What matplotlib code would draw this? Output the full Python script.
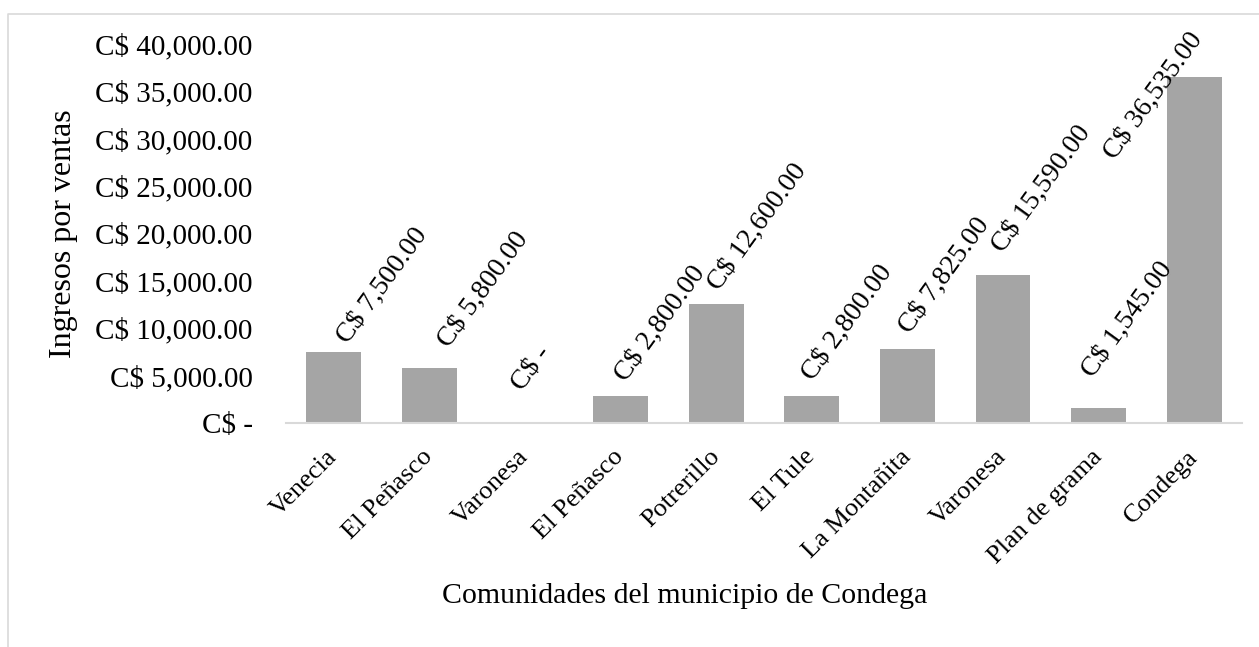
import matplotlib
matplotlib.use("Agg")
import matplotlib.pyplot as plt
from matplotlib.lines import Line2D

categories = ["Venecia", "El Peñasco", "Varonesa", "El Peñasco", "Potrerillo",
              "El Tule", "La Montañita", "Varonesa", "Plan de grama", "Condega"]
ingresos = [7500, 5800, 0, 2800, 12600, 2800, 7825, 15590, 1545, 36535]
y_ticks = [0, 5000, 10000, 15000, 20000, 25000, 30000, 35000, 40000]

def fmt(v):
    return "C$ -" if v == 0 else f"C$ {v:,.2f}"

plt.rcParams['font.family'] = ['Liberation Serif', 'DejaVu Serif']

W, H = 1259, 647
fig = plt.figure(figsize=(W / 100, H / 100), dpi=100)
ax = fig.add_axes([286 / W, 1 - 423 / H, (1242 - 286) / W, (423 - 44) / H])

x = list(range(len(categories)))
ax.bar(x, ingresos, width=0.575, color="#a5a5a5", zorder=2)
ax.set_xlim(-0.5, len(categories) - 0.5)
ax.set_ylim(0, 40000)

ax.set_yticks(y_ticks)
ax.set_yticklabels([fmt(v) for v in y_ticks], fontsize=21)
ax.tick_params(axis='y', length=0, pad=24)
ax.set_xticks(x)
ax.set_xticklabels(categories, fontsize=19, rotation=45, ha='right',
                   va='center', rotation_mode='anchor')
ax.tick_params(axis='x', length=0, pad=22)

for s in ['top', 'right', 'left']:
    ax.spines[s].set_visible(False)
ax.spines['bottom'].set_color('#d9d9d9')
ax.spines['bottom'].set_linewidth(1.5)

# data labels (offsets in pixels)
offsets = [(14, 7), (19, 19), (-3, 31), (5, 14), (2, 12),
           (1, 15), (2, 14), (0, 22), (-6, 30), (-80, -84)]
for xi, v, off in zip(x, ingresos, offsets):
    ax.annotate(fmt(v), (xi, v), xytext=off, textcoords='offset pixels',
                rotation=54, rotation_mode='anchor', ha='left', va='baseline',
                fontsize=20, zorder=3)

fig.text(64 / W, 1 - 234 / H, "Ingresos por ventas", rotation=90,
         ha='center', va='center', fontsize=23)
fig.text(685 / W, 1 - 596 / H, "Comunidades del municipio de Condega",
         ha='center', va='center', fontsize=21.5)

# chart-area border
fig.add_artist(Line2D([7.5 / W, 7.5 / W, 1.0], [0.0, 1 - 13.5 / H, 1 - 13.5 / H],
                      transform=fig.transFigure, color='#d9d9d9', lw=1.2))

fig.savefig("out.png", dpi=100)
